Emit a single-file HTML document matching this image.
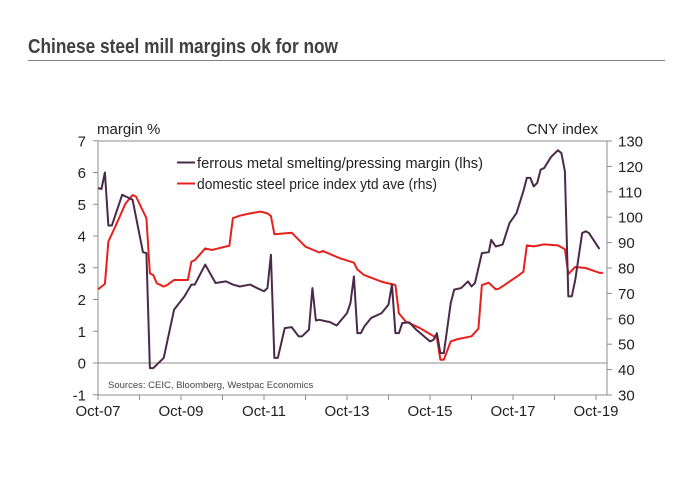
<!DOCTYPE html>
<html><head><meta charset="utf-8"><style>
body{margin:0;background:#fff;}
svg{display:block;font-family:"Liberation Sans",Arial,sans-serif;}
</style></head><body>
<svg width="700" height="495" viewBox="0 0 700 495">
<text x="28" y="53" font-size="20" font-weight="bold" fill="#404040" textLength="310" lengthAdjust="spacingAndGlyphs">Chinese steel mill margins ok for now</text>
<line x1="28" y1="60.5" x2="665" y2="60.5" stroke="#7f7f7f" stroke-width="1"/>
<g id="axes"></g>
<g id="series"></g>
<text x="97" y="134" font-size="15" fill="#222">margin %</text>
<text x="598" y="134" font-size="15" fill="#222" text-anchor="end">CNY index</text>
<line x1="177" y1="162.5" x2="195" y2="162.5" stroke="#4a2a4a" stroke-width="2"/>
<text x="197" y="168" font-size="14.5" fill="#222" textLength="286" lengthAdjust="spacingAndGlyphs">ferrous metal smelting/pressing margin (lhs)</text>
<line x1="177" y1="183.5" x2="195" y2="183.5" stroke="#e8201c" stroke-width="2"/>
<text x="197" y="189" font-size="14.5" fill="#222" textLength="240" lengthAdjust="spacingAndGlyphs">domestic steel price index ytd ave (rhs)</text>
<text x="108" y="388" font-size="9.5" fill="#444">Sources: CEIC, Bloomberg, Westpac Economics</text>
</svg>
<script>
const xLabels=["Oct-07","Oct-09","Oct-11","Oct-13","Oct-15","Oct-17","Oct-19"];
const xLabelMonths=[0,24,48,72,96,120,144];
const leftTicks=[-1,0,1,2,3,4,5,6,7];
const rightTicks=[30,40,50,60,70,80,90,100,110,120,130];
const marginMonths=[0,1,2,3,4,7,10,13,14,15,16,19,22,25,27,28,31,34,37,39,41,44,46,48,49,50,51,52,54,56,58,59,61,62,63,64,66,67,69,72,73,74,75,76,77,79,81,82,84,85,86,87,88,90,92,96,97,98,99,100,102,103,105,107,108,109,111,113,113.7,115,117,119,121,123,124,125,126,127,128,129,131,133,134,135,136,137,138,140,141,142,145];
const marginValues=[5.51,5.48,6.0,4.33,4.33,5.3,5.14,3.49,3.46,-0.16,-0.16,0.16,1.68,2.1,2.47,2.47,3.1,2.52,2.57,2.47,2.41,2.47,2.36,2.26,2.36,3.41,0.16,0.16,1.1,1.13,0.84,0.84,1.05,2.36,1.34,1.36,1.31,1.29,1.18,1.57,1.89,2.73,0.94,0.94,1.15,1.42,1.52,1.57,1.84,2.47,0.94,0.94,1.26,1.28,1.05,0.68,0.73,0.94,0.31,0.31,1.89,2.31,2.36,2.57,2.41,2.52,3.46,3.49,3.88,3.67,3.73,4.41,4.72,5.41,5.83,5.83,5.56,5.67,6.09,6.14,6.49,6.7,6.61,6.04,2.1,2.1,2.62,4.09,4.15,4.09,3.59];
const priceMonths=[0,2,3,5,8,10,11,14,15,16,17,19,20,22,26,27,28,31,33,38,39,41,44,47,49,50,51,56,60,64,65,70,74,75,77,82,86,87,89,93,98,99,100,102,104,108,110,111,113,115,116,121,123,124,126,129,133,135,136,138,141,145,146];
const priceValues=[71.6,73.7,90.4,96.3,105.5,108.7,108.1,99.6,77.9,77.2,74,72.7,73.3,75.3,75.3,82.5,83.1,87.7,87.1,88.8,99.6,100.6,101.5,102.2,101.5,100.5,93.3,93.9,88.4,86.1,86.7,83.8,82.1,79.4,77.2,74.6,73.3,62.2,58.9,56.4,52.4,43.9,43.9,51.1,52,53.1,56.1,73.3,74.2,71.6,71.9,76.5,78.5,88.9,88.5,89.3,88.9,87.4,77.6,80.4,80,78.1,78.1];

const NS="http://www.w3.org/2000/svg";
const X0=98,X1=607,YT=141,YB=395;
const xs=m=>98+m*41.5/12;
const yl=v=>363-v*31.75;
const yr=v=>395-(v-30)*2.54;
function mk(tag,attrs,parent){const e=document.createElementNS(NS,tag);for(const k in attrs)e.setAttribute(k,attrs[k]);parent.appendChild(e);return e;}
const ax=document.getElementById('axes');
let e;
e=mk('line',{x1:X0,y1:YT,x2:X1,y2:YT,stroke:'#8c8c8c'},ax);


e=mk('line',{x1:X0,y1:YT,x2:X0,y2:YB,stroke:'#8c8c8c'},ax);


e=mk('line',{x1:X1,y1:YT,x2:X1,y2:YB,stroke:'#8c8c8c'},ax);


e=mk('line',{x1:X0,y1:YB,x2:X1,y2:YB,stroke:'#8c8c8c'},ax);


e=mk('line',{x1:X0,y1:yl(0),x2:X1,y2:yl(0),stroke:'#8c8c8c'},ax);


leftTicks.forEach(v=>{const y=yl(v);
 e=mk('line',{x1:X0-5,y1:y,x2:X0,y2:y,stroke:'#8c8c8c'},ax);
 
 
 e=mk('text',{x:86,y:y+5.5,'font-size':15,fill:'#222','text-anchor':'end'},ax);e.textContent=v;
 
 });
rightTicks.forEach(v=>{const y=yr(v);
 e=mk('line',{x1:X1,y1:y,x2:X1+5,y2:y,stroke:'#8c8c8c'},ax);
 
 
 e=mk('text',{x:618,y:y+5.5,'font-size':15,fill:'#222'},ax);e.textContent=v;
 
 });
for(let m=0;m<=144;m+=12){const x=xs(m);
 e=mk('line',{x1:x,y1:YB,x2:x,y2:YB+5,stroke:'#8c8c8c'},ax);
 
 }
xLabels.forEach((l,i)=>{
 e=mk('text',{x:xs(xLabelMonths[i]),y:416,'font-size':15,fill:'#222','text-anchor':'middle'},ax);e.textContent=l;
 
 });
const sg=document.getElementById('series');
e=mk('polyline',{points:priceMonths.map((m,i)=>xs(m)+','+yr(priceValues[i])).join(' '),fill:'none',stroke:'#e8201c','stroke-width':2,'stroke-linejoin':'round'},sg);


e=mk('polyline',{points:marginMonths.map((m,i)=>xs(m)+','+yl(marginValues[i])).join(' '),fill:'none',stroke:'#4a2a4a','stroke-width':2,'stroke-linejoin':'round'},sg);


</script>
</body></html>
